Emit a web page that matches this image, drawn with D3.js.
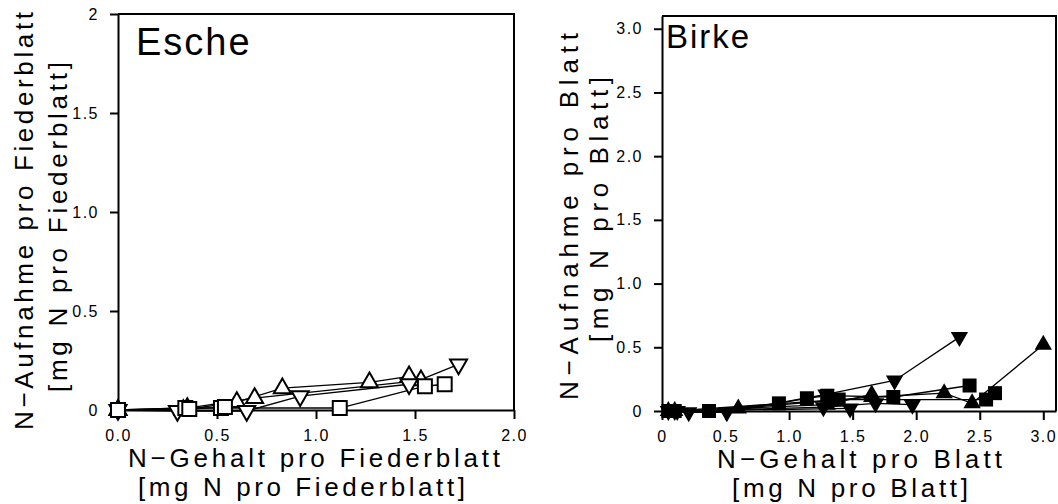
<!DOCTYPE html>
<html>
<head>
<meta charset="utf-8">
<script src="https://cdn.jsdelivr.net/npm/d3@7"></script>
<style>
  body { margin: 0; background: #fff; }
  svg { display: block; font-family: "Liberation Sans", Arial, sans-serif; }
</style>
</head>
<body>
<div id="app"></div>
<script>
// Esche: N-Gehalt (x) vs N-Aufnahme (y), one array per replicate
const escheUp = [
  [[0, 0], [0.33, 0.0], [0.6, 0.04], [0.83, 0.11], [1.27, 0.14], [1.47, 0.17]],
  [[0, 0], [0.35, 0.01], [0.69, 0.06], [1.53, 0.15]]
];
const escheDown = [
  [[0, 0], [0.3, -0.005], [0.65, -0.005], [0.92, 0.07], [1.47, 0.13], [1.72, 0.23]]
];
const escheSquare = [
  [[0, 0], [0.34, 0.01], [0.52, 0.01], [1.12, 0.01], [1.55, 0.12], [1.65, 0.13]],
  [[0, 0], [0.36, 0.005], [0.54, 0.015]]
];

// Birke
const birkeUp = [
  [[0.05, 0], [0.6, 0.02], [1.65, 0.11], [2.22, 0.14], [2.44, 0.06], [3.0, 0.52]],
  [[0.1, 0], [1.3, 0.05], [1.65, 0.13]]
];
const birkeDown = [
  [[0.05, 0], [0.21, -0.01], [0.51, -0.01], [1.29, 0.13], [1.83, 0.24], [2.34, 0.58]],
  [[0.12, 0], [1.27, 0.03], [1.68, 0.06], [1.97, 0.05]],
  [[0.1, 0], [1.48, 0.02]]
];
const birkeSquare = [
  [[0.05, 0], [0.37, 0], [0.92, 0.06], [1.14, 0.1], [1.3, 0.12], [1.82, 0.11], [2.42, 0.2]],
  [[0.1, 0], [1.39, 0.09], [2.55, 0.09], [2.62, 0.14]]
];

const escheXTicks = [0, 0.5, 1, 1.5, 2];
const escheXLabels = ["0.0", "0.5", "1.0", "1.5", "2.0"];
const escheYTicks = [0, 0.5, 1, 1.5, 2];
const escheYLabels = ["0", "0.5", "1.0", "1.5", "2"];

const birkeTicks = [0, 0.5, 1, 1.5, 2, 2.5, 3];
const birkeXLabels = ["0", "0.5", "1.0", "1.5", "2.0", "2.5", "3.0"];
const birkeYLabels = ["0", "0.5", "1.0", "1.5", "2.0", "2.5", "3.0"];

const w = 1058;
const h = 504;

const svg = d3.select("#app")
  .append("svg")
  .attr("width", w)
  .attr("height", h);

const drawPanel = (p) => {
  const x = d3.scaleLinear().domain(p.xDomain).range([p.left, p.right]);
  const y = d3.scaleLinear().domain(p.yDomain).range([p.bottom, p.top]);
  const g = svg.append("g");

  // frame (top + right)
  g.append("path")
    .attr("d", `M${p.left},${p.top}H${p.right}V${p.bottom}`)
    .attr("fill", "none")
    .attr("stroke", "#000")
    .attr("stroke-width", 2);

  const xAxis = d3.axisBottom(x)
    .tickValues(p.xTicks)
    .tickFormat((d, i) => p.xLabels[i])
    .tickSize(9)
    .tickSizeOuter(0)
    .tickPadding(11);
  const yAxis = d3.axisLeft(y)
    .tickValues(p.yTicks)
    .tickFormat((d, i) => p.yLabels[i])
    .tickSize(8)
    .tickSizeOuter(0)
    .tickPadding(p.yPad);

  [g.append("g").attr("transform", `translate(0,${p.bottom})`).call(xAxis),
   g.append("g").attr("transform", `translate(${p.left},0)`).call(yAxis)]
    .forEach((a) => {
      a.attr("font-family", null).attr("font-size", null);
      a.select(".domain").attr("stroke-width", 2);
      a.selectAll(".tick line").attr("stroke-width", 2);
      a.selectAll(".tick text")
        .style("font-size", "16px")
        .style("letter-spacing", "1.5px")
        .attr("fill", "#000");
    });

  // series lines
  const line = d3.line().x((d) => x(d[0])).y((d) => y(d[1]));
  const groups = [
    { data: p.up, type: d3.symbolTriangle, rot: 0 },
    { data: p.down, type: d3.symbolTriangle, rot: 180 },
    { data: p.square, type: d3.symbolSquare, rot: 0 }
  ];
  groups.forEach((s) => {
    s.data.forEach((rep) => {
      g.append("path")
        .attr("d", line(rep))
        .attr("fill", "none")
        .attr("stroke", "#000")
        .attr("stroke-width", 1.3);
    });
  });
  groups.forEach((s) => {
    const size = s.type === d3.symbolSquare ? p.sqSize : p.triSize;
    g.selectAll(null)
      .data(s.data.flat())
      .enter()
      .append("path")
      .attr("d", d3.symbol().type(s.type).size(size))
      .attr("transform", (d) => `translate(${x(d[0])},${y(d[1])}) rotate(${s.rot})`)
      .attr("fill", p.filled ? "#000" : "#fff")
      .attr("stroke", "#000")
      .attr("stroke-width", p.filled ? 0 : 2);
  });

  // panel name
  g.append("text")
    .attr("x", p.nameX)
    .attr("y", p.nameY)
    .style("font-size", p.nameSize + "px")
    .style("letter-spacing", "2px")
    .text(p.name);

  // axis titles, stretched to the width they take in the figure
  p.xTitle.forEach((t, i) => {
    g.append("text")
      .attr("x", p.xTitleX[i])
      .attr("y", p.xTitleY[i])
      .attr("textLength", p.xTitleLen[i])
      .attr("lengthAdjust", "spacing")
      .style("font-size", "26px")
      .text(t);
  });
  p.yTitle.forEach((t, i) => {
    g.append("text")
      .attr("transform", `translate(${p.yTitleX[i]},${p.yTitleY[i]}) rotate(-90)`)
      .attr("textLength", p.yTitleLen[i])
      .attr("lengthAdjust", "spacing")
      .style("font-size", "26px")
      .text(t);
  });
};

drawPanel({
  name: "Esche", nameX: 136, nameY: 55, nameSize: 38,
  xDomain: [0, 2], yDomain: [0, 2],
  left: 118, right: 514, top: 14, bottom: 410,
  xTicks: escheXTicks, xLabels: escheXLabels,
  yTicks: escheYTicks, yLabels: escheYLabels, yPad: 11,
  up: escheUp, down: escheDown, square: escheSquare,
  filled: false, triSize: 125, sqSize: 195,
  xTitle: ["N\u2212Gehalt pro Fiederblatt", "[mg N pro Fiederblatt]"],
  xTitleX: [128, 138], xTitleY: [467, 496], xTitleLen: [372, 327],
  yTitle: ["N\u2212Aufnahme pro Fiederblatt", "[mg N pro Fiederblatt]"],
  yTitleX: [33, 67], yTitleY: [430, 392], yTitleLen: [418, 330]
});

drawPanel({
  name: "Birke", nameX: 666, nameY: 48, nameSize: 33,
  xDomain: [0, 3.1], yDomain: [0, 3.1],
  left: 662, right: 1056, top: 16, bottom: 411,
  xTicks: birkeTicks, xLabels: birkeXLabels,
  yTicks: birkeTicks, yLabels: birkeYLabels, yPad: 11,
  up: birkeUp, down: birkeDown, square: birkeSquare,
  filled: true, triSize: 130, sqSize: 196,
  xTitle: ["N\u2212Gehalt pro Blatt", "[mg N pro Blatt]"],
  xTitleX: [717, 732], xTitleY: [468, 497], xTitleLen: [285, 236],
  yTitle: ["N\u2212Aufnahme pro Blatt", "[mg N pro Blatt]"],
  yTitleX: [578, 608], yTitleY: [400, 342], yTitleLen: [367, 265]
});
</script>
</body>
</html>
